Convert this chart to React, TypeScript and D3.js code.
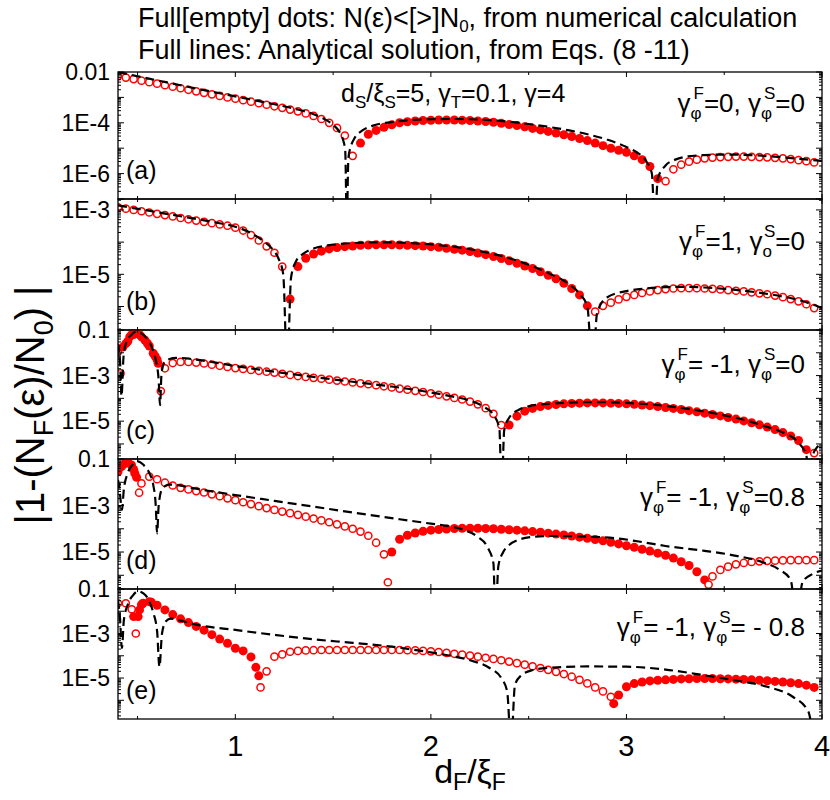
import React from "react";
import * as d3 from "d3";

// numerical grid of d_F/xi_F
const dF = [
  0.40, 0.44, 0.48, 0.52, 0.56, 0.60, 0.64, 0.68, 0.72, 0.76,
  0.80, 0.84, 0.88, 0.92, 0.96, 1.00, 1.04, 1.08, 1.12, 1.16,
  1.20, 1.24, 1.28, 1.32, 1.36, 1.40, 1.44, 1.48, 1.52, 1.56,
  1.60, 1.64, 1.68, 1.72, 1.76, 1.80, 1.84, 1.88, 1.92, 1.96,
  2.00, 2.04, 2.08, 2.12, 2.16, 2.20, 2.24, 2.28, 2.32, 2.36,
  2.40, 2.44, 2.48, 2.52, 2.56, 2.60, 2.64, 2.68, 2.72, 2.76,
  2.80, 2.84, 2.88, 2.92, 2.96, 3.00, 3.04, 3.08, 3.12, 3.16,
  3.20, 3.24, 3.28, 3.32, 3.36, 3.40, 3.44, 3.48, 3.52, 3.56,
  3.60, 3.64, 3.68, 3.72, 3.76, 3.80, 3.84, 3.88, 3.92, 3.96,
];

// log10 |1 - N_F/N_0| on the grid, one array per panel
const aLog = [
  -2.16, -2.22, -2.28, -2.34, -2.40, -2.46, -2.52, -2.58, -2.64, -2.70,
  -2.76, -2.82, -2.88, -2.94, -3.00, -3.05, -3.11, -3.17, -3.23, -3.29,
  -3.35, -3.41, -3.48, -3.55, -3.63, -3.73, -3.85, -4.00, -4.20, -4.50,
  -5.30, -4.80, -4.45, -4.30, -4.18, -4.08, -4.00, -3.96, -3.93, -3.91,
  -3.90, -3.89, -3.89, -3.89, -3.90, -3.91, -3.93, -3.95, -3.98, -4.02,
  -4.07, -4.11, -4.16, -4.22, -4.28, -4.34, -4.40, -4.47, -4.54, -4.62,
  -4.70, -4.80, -4.90, -5.00, -5.08, -5.16, -5.30, -5.45, -5.72, -6.20,
  -6.30, -5.83, -5.65, -5.53, -5.45, -5.40, -5.37, -5.35, -5.34, -5.33,
  -5.33, -5.34, -5.35, -5.36, -5.38, -5.40, -5.43, -5.47, -5.51, -5.56,
];
const bLog = [
  -2.92, -2.96, -3.00, -3.04, -3.08, -3.12, -3.16, -3.20, -3.25, -3.29,
  -3.33, -3.37, -3.41, -3.45, -3.49, -3.55, -3.64, -3.78, -3.95, -4.13,
  -4.33, -4.76, -5.77, -4.76, -4.50, -4.37, -4.28, -4.21, -4.17, -4.14,
  -4.12, -4.10, -4.09, -4.08, -4.08, -4.08, -4.09, -4.10, -4.11, -4.12,
  -4.14, -4.16, -4.19, -4.22, -4.25, -4.29, -4.34, -4.39, -4.45, -4.51,
  -4.58, -4.66, -4.74, -4.82, -4.92, -5.03, -5.14, -5.28, -5.44, -5.64,
  -5.98, -6.16, -5.98, -5.88, -5.78, -5.70, -5.64, -5.58, -5.53, -5.49,
  -5.46, -5.44, -5.43, -5.43, -5.43, -5.44, -5.45, -5.47, -5.49, -5.51,
  -5.53, -5.56, -5.59, -5.62, -5.66, -5.71, -5.77, -5.84, -5.93, -6.05,
];
const cLog = [
  -1.95, -1.60, -1.20, -1.30, -1.70, -2.30, -2.68, -2.45, -2.40, -2.40,
  -2.43, -2.47, -2.52, -2.57, -2.62, -2.67, -2.71, -2.75, -2.79, -2.83,
  -2.87, -2.92, -2.97, -3.02, -3.06, -3.10, -3.14, -3.18, -3.22, -3.26,
  -3.30, -3.34, -3.38, -3.42, -3.47, -3.52, -3.57, -3.62, -3.67, -3.72,
  -3.78, -3.84, -3.91, -3.98, -4.05, -4.14, -4.26, -4.43, -4.68, -5.17,
  -5.17, -4.78, -4.56, -4.44, -4.36, -4.31, -4.27, -4.24, -4.22, -4.21,
  -4.20, -4.20, -4.20, -4.21, -4.22, -4.24, -4.26, -4.29, -4.32, -4.36,
  -4.40, -4.44, -4.49, -4.54, -4.59, -4.65, -4.71, -4.77, -4.84, -4.91,
  -4.99, -5.07, -5.16, -5.26, -5.37, -5.50, -5.65, -5.85, -6.25, -6.40,
];
const dLog = [
  -1.55, -1.17, -1.45, -2.05, -1.76, -1.87, -2.02, -2.14, -2.24, -2.31,
  -2.38, -2.44, -2.52, -2.60, -2.69, -2.77, -2.86, -2.94, -3.03, -3.11,
  -3.19, -3.26, -3.33, -3.40, -3.48, -3.56, -3.64, -3.72, -3.81, -3.90,
  -4.00, -4.12, -4.30, -4.60, -5.10, -5.00, -4.45, -4.28, -4.18, -4.11,
  -4.06, -4.03, -4.01, -3.99, -3.98, -3.98, -3.98, -3.99, -4.00, -4.02,
  -4.04, -4.06, -4.09, -4.12, -4.15, -4.19, -4.23, -4.27, -4.31, -4.36,
  -4.41, -4.46, -4.52, -4.58, -4.65, -4.73, -4.80, -4.88, -4.96, -5.05,
  -5.14, -5.26, -5.42, -5.58, -5.85, -6.20, -6.05, -5.77, -5.63, -5.53,
  -5.47, -5.43, -5.40, -5.38, -5.37, -5.36, -5.35, -5.35, -5.35, -5.35,
];
const eLog = [
  -1.64, -1.64, -2.24, -1.70, -1.57, -1.73, -1.94, -2.15, -2.34, -2.51,
  -2.68, -2.85, -3.05, -3.25, -3.44, -3.66, -3.78, -4.05, -4.90, -4.70,
  -4.04, -3.94, -3.82, -3.78, -3.76, -3.75, -3.74, -3.74, -3.74, -3.74,
  -3.74, -3.74, -3.74, -3.74, -3.74, -3.74, -3.74, -3.75, -3.76, -3.78,
  -3.80, -3.83, -3.87, -3.91, -3.95, -3.99, -4.04, -4.09, -4.14, -4.20,
  -4.26, -4.33, -4.40, -4.47, -4.55, -4.63, -4.72, -4.82, -4.94, -5.08,
  -5.24, -5.42, -5.60, -5.84, -5.76, -5.39, -5.25, -5.18, -5.13, -5.10,
  -5.08, -5.06, -5.04, -5.03, -5.02, -5.02, -5.02, -5.03, -5.04, -5.05,
  -5.06, -5.08, -5.10, -5.12, -5.15, -5.18, -5.21, -5.25, -5.32, -5.42,
];

// d_F ranges where N(eps) < N0 (full dots)
const aFull = [[1.62, 3.18]];
const bFull = [[1.26, 2.82]];
const cFull = [[0.42, 0.61], [2.38, 3.94]];
const dFull = [[0.39, 0.50], [1.79, 3.41]];
const eFull = [[0.475, 1.125], [2.93, 4.0]];

// extra points off the grid: [d_F, log10 value, full?]
const aExtra: number[][] = [];
const bExtra: number[][] = [];
const cExtra = [
  [0.413, -2.9, 0], [0.425, -1.75, 1], [0.45, -1.5, 1], [0.46, -1.3, 1], [0.47, -1.2, 1],
  [0.495, -1.15, 1], [0.51, -1.2, 1], [0.537, -1.44, 1], [0.55, -1.58, 1], [0.58, -2.02, 1],
  [0.59, -2.15, 1], [0.605, -2.46, 1], [0.619, -3.68, 0],
];
const dExtra = [
  [0.418, -1.33, 1], [0.435, -1.19, 1], [0.452, -1.16, 1], [0.469, -1.26, 1], [0.486, -1.62, 1],
  [0.495, -1.79, 1], [0.508, -2.45, 0], [1.78, -6.3, 0], [3.42, -6.4, 0],
];
const eExtra = [
  [0.47, -1.91, 0], [0.491, -3.0, 0], [0.503, -2.24, 1], [0.51, -1.94, 1], [0.528, -1.64, 1],
  [0.571, -1.6, 1], [1.105, -4.52, 1], [1.129, -5.42, 0], [2.935, -6.15, 1],
];

// analytical solution (dashed): [d_F, log10 value]
const aLine = [
  [0.40, -2.0], [0.6, -2.33], [0.8, -2.65], [1.0, -2.96], [1.2, -3.27], [1.3, -3.44], [1.4, -3.66],
  [1.45, -3.83], [1.5, -4.08], [1.53, -4.33], [1.55, -4.65], [1.562, -5.1], [1.57, -8], [1.578, -5.4],
  [1.59, -4.95], [1.61, -4.6], [1.65, -4.3], [1.7, -4.12], [1.8, -3.97], [1.9, -3.89], [2.0, -3.86],
  [2.1, -3.85], [2.2, -3.86], [2.4, -3.96], [2.6, -4.16], [2.8, -4.45], [2.9, -4.66], [3.0, -4.95],
  [3.05, -5.15], [3.1, -5.5], [3.13, -6.0], [3.145, -8], [3.16, -6.2], [3.2, -5.68], [3.25, -5.45],
  [3.3, -5.34], [3.4, -5.27], [3.5, -5.25], [3.6, -5.26], [3.7, -5.3], [3.8, -5.36], [3.9, -5.43], [4.0, -5.5],
];
const bLine = [
  [0.40, -2.86], [0.6, -3.07], [0.8, -3.28], [0.9, -3.39], [1.0, -3.52], [1.08, -3.72], [1.14, -3.95],
  [1.19, -4.22], [1.22, -4.5], [1.245, -5.0], [1.265, -8], [1.285, -5.1], [1.31, -4.6], [1.35, -4.35],
  [1.4, -4.2], [1.5, -4.08], [1.6, -4.03], [1.7, -4.01], [1.8, -4.01], [1.9, -4.03], [2.0, -4.07],
  [2.1, -4.13], [2.2, -4.22], [2.3, -4.34], [2.4, -4.5], [2.5, -4.7], [2.6, -4.96], [2.7, -5.28],
  [2.76, -5.6], [2.8, -6.0], [2.827, -8], [2.85, -6.2], [2.9, -5.72], [3.0, -5.52], [3.1, -5.44],
  [3.2, -5.4], [3.3, -5.39], [3.4, -5.41], [3.5, -5.45], [3.6, -5.51], [3.7, -5.59], [3.8, -5.69],
  [3.9, -5.83], [4.0, -6.05],
];
const cLine = [
  [0.40, -1.6], [0.41, -2.3], [0.418, -3.9], [0.428, -2.2], [0.44, -1.6], [0.47, -1.2], [0.495, -1.07],
  [0.52, -1.15], [0.55, -1.4], [0.575, -1.8], [0.595, -2.4], [0.608, -3.2], [0.615, -4.3], [0.622, -3.0],
  [0.635, -2.45], [0.66, -2.28], [0.7, -2.22], [0.8, -2.3], [1.0, -2.58], [1.2, -2.83], [1.4, -3.06],
  [1.6, -3.27], [1.8, -3.48], [2.0, -3.74], [2.1, -3.9], [2.2, -4.1], [2.27, -4.37], [2.32, -4.72],
  [2.35, -5.3], [2.362, -8], [2.375, -5.4], [2.4, -4.85], [2.45, -4.5], [2.5, -4.35], [2.6, -4.24],
  [2.7, -4.19], [2.8, -4.17], [2.9, -4.17], [3.0, -4.2], [3.2, -4.33], [3.4, -4.58], [3.6, -4.94],
  [3.7, -5.2], [3.8, -5.5], [3.88, -5.95], [3.92, -6.5], [3.935, -8], [3.95, -6.6], [3.97, -6.2], [4.0, -6.0],
];
const dLine = [
  [0.40, -1.9], [0.41, -2.5], [0.42, -3.2], [0.43, -2.3], [0.45, -1.6], [0.48, -1.2], [0.5, -1.1],
  [0.53, -1.25], [0.56, -1.6], [0.58, -2.1], [0.593, -3.0], [0.6, -4.2], [0.608, -3.0], [0.625, -2.3],
  [0.66, -2.1], [0.7, -2.12], [0.8, -2.28], [1.0, -2.55], [1.2, -2.8], [1.4, -3.05], [1.6, -3.3],
  [1.84, -3.59], [2.0, -3.78], [2.1, -3.9], [2.17, -4.05], [2.24, -4.35], [2.29, -4.8], [2.32, -5.5],
  [2.33, -8], [2.345, -5.6], [2.37, -5.0], [2.4, -4.7], [2.45, -4.47], [2.52, -4.35], [2.6, -4.31],
  [2.8, -4.34], [2.95, -4.41], [3.1, -4.6], [3.2, -4.74], [3.4, -4.95], [3.54, -5.13], [3.7, -5.45],
  [3.78, -5.75], [3.84, -6.2], [3.87, -8], [3.9, -6.3], [3.95, -5.95], [4.0, -5.8],
];
const eLine = [
  [0.40, -1.5], [0.41, -2.3], [0.42, -3.65], [0.43, -2.4], [0.45, -1.7], [0.48, -1.25], [0.5, -1.1],
  [0.53, -1.2], [0.56, -1.55], [0.58, -2.05], [0.6, -2.9], [0.612, -4.5], [0.625, -3.0], [0.645, -2.45],
  [0.67, -2.33], [0.7, -2.38], [0.8, -2.6], [1.0, -2.84], [1.2, -3.06], [1.4, -3.26], [1.6, -3.42],
  [1.8, -3.59], [2.0, -3.85], [2.1, -4.0], [2.2, -4.2], [2.3, -4.55], [2.36, -5.0], [2.39, -5.6],
  [2.41, -8], [2.43, -5.3], [2.46, -4.9], [2.52, -4.64], [2.6, -4.54], [2.8, -4.48], [3.0, -4.49],
  [3.2, -4.62], [3.38, -4.85], [3.55, -5.1], [3.72, -5.39], [3.85, -5.84], [3.93, -6.5], [3.97, -8], [4.0, -7],
];

// y ranges (log10) and labelled decades
const yDomains = [[-7, -2], [-6.73, -2.66], [-6.66, -1], [-6.59, -1], [-6.84, -1]];
const aTicks = [[-2, "0.01"], [-4, "1E-4"], [-6, "1E-6"]];
const bTicks = [[-3, "1E-3"], [-5, "1E-5"]];
const cTicks = [[-1, "0.1"], [-3, "1E-3"], [-5, "1E-5"]];
const xTicks = [0.5, 1, 1.5, 2, 2.5, 3, 3.5, 4];
const xTickLabels = ["1", "2", "3", "4"];

const notes = [
  { tag: "(a)", s1: "φ", v1: "0", s2: "φ", v2: "0" },
  { tag: "(b)", s1: "φ", v1: "1", s2: "ο", v2: "0" },
  { tag: "(c)", s1: "φ", v1: " -1", s2: "φ", v2: "0" },
  { tag: "(d)", s1: "φ", v1: " -1", s2: "φ", v2: "0.8" },
  { tag: "(e)", s1: "φ", v1: " -1", s2: "φ", v2: " - 0.8" },
];

const font = "'Liberation Sans', Arial, Helvetica, sans-serif";
const RED = "#ff0000";

const tops = [72, 199, 330, 459, 589];
const bottoms = [199, 330, 459, 589, 719];
const noteY = [112, 250, 373, 506, 636];

function Panel({ i, logs, full, extra, line, ticks }) {
  const top = tops[i];
  const bottom = bottoms[i];
  const x = d3.scaleLinear().domain([0.4, 4]).range([118, 822]);
  const [lo, hi] = yDomains[i];
  const y = d3.scaleLog().domain([10 ** lo, 10 ** hi]).range([bottom, top]);
  const isFull = (v) => full.some(([a, b]) => v >= a && v <= b);
  const pts = [];
  logs.forEach((v, k) => pts.push([dF[k], v, isFull(dF[k]) ? 1 : 0]));
  extra.forEach((p) => pts.push(p));
  const path = d3
    .line()
    .x((d) => x(d[0]))
    .y((d) => y(10 ** d[1]))
    .curve(d3.curveMonotoneX)(line);

  const minor = [];
  for (let n = Math.floor(lo); n <= Math.ceil(hi); n++) {
    for (let k = 1; k <= 9; k++) {
      const v = k * 10 ** n;
      if (v >= 10 ** lo && v <= 10 ** hi * 1.0001) minor.push([v, k === 1]);
    }
  }
  const note = notes[i];
  const clip = "clip" + i;
  return (
    <g>
      <defs>
        <clipPath id={clip}>
          <rect x={118} y={top} width={704} height={bottom - top} />
        </clipPath>
      </defs>
      <g clipPath={`url(#${clip})`}>
        {pts.map((p, k) =>
          p[2] ? (
            <circle key={k} cx={x(p[0])} cy={y(10 ** p[1])} r={4.5} fill={RED} />
          ) : (
            <circle key={k} cx={x(p[0])} cy={y(10 ** p[1])} r={3.6} fill="white" stroke={RED} strokeWidth={1.5} />
          )
        )}
        <path d={path} fill="none" stroke="#000" strokeWidth={2.2} strokeDasharray="9,5" />
      </g>
      <rect x={118} y={top} width={704} height={bottom - top} fill="none" stroke="#000" strokeWidth={1.3} />
      {xTicks.map((t) => {
        const len = Number.isInteger(t) ? 5 : 3;
        return (
          <g key={t} stroke="#000" strokeWidth={1}>
            <line x1={x(t)} x2={x(t)} y1={top} y2={top + len} />
            <line x1={x(t)} x2={x(t)} y1={bottom} y2={bottom - len} />
          </g>
        );
      })}
      {minor.map(([v, major], k) => {
        const len = major ? 6 : 3;
        return (
          <g key={k} stroke="#000" strokeWidth={1}>
            <line x1={118} x2={118 + len} y1={y(v)} y2={y(v)} />
            <line x1={822} x2={822 - len} y1={y(v)} y2={y(v)} />
          </g>
        );
      })}
      {ticks.map(([d, s]) => (
        <text key={s} x={110} y={y(10 ** d)} dy="0.36em" textAnchor="end" fontSize={23} fontFamily={font}>
          {s}
        </text>
      ))}
      <text x={126} y={bottom - 20} fontSize={25} fontFamily={font}>
        {note.tag}
      </text>
      <text x={805} y={noteY[i]} textAnchor="end" fontSize={26} fontFamily={font}>
        <tspan>γ</tspan>
        <tspan fontSize={17} dy={7}>{note.s1}</tspan>
        <tspan fontSize={17} dx={-8} dy={-20}>F</tspan>
        <tspan dy={13}>{"=" + note.v1 + ", γ"}</tspan>
        <tspan fontSize={17} dy={7}>{note.s2}</tspan>
        <tspan fontSize={17} dx={-8} dy={-20}>S</tspan>
        <tspan dy={13}>{"=" + note.v2}</tspan>
      </text>
    </g>
  );
}

export default function App() {
  const x = d3.scaleLinear().domain([0.4, 4]).range([118, 822]);
  const panels = [
    { logs: aLog, full: aFull, extra: aExtra, line: aLine, ticks: aTicks },
    { logs: bLog, full: bFull, extra: bExtra, line: bLine, ticks: bTicks },
    { logs: cLog, full: cFull, extra: cExtra, line: cLine, ticks: cTicks },
    { logs: dLog, full: dFull, extra: dExtra, line: dLine, ticks: cTicks },
    { logs: eLog, full: eFull, extra: eExtra, line: eLine, ticks: cTicks },
  ];
  return (
    <svg width={830} height={800} style={{ position: "absolute", left: 0, top: 0, background: "#fff" }} fontFamily={font}>
      <text x={138} y={27} fontSize={27}>
        Full[empty] dots: N(ε)&lt;[&gt;]N<tspan fontSize={17} dy={5}>0</tspan>
        <tspan dy={-5}>, from numerical calculation</tspan>
      </text>
      <text x={138} y={59} fontSize={27}>
        Full lines: Analytical solution, from Eqs. (8 -11)
      </text>
      {panels.map((p, i) => (
        <Panel key={i} i={i} {...p} />
      ))}
      <text x={341} y={102} fontSize={25}>
        d<tspan fontSize={17} dy={6}>S</tspan>
        <tspan dy={-6}>/ξ</tspan>
        <tspan fontSize={17} dy={6}>S</tspan>
        <tspan dy={-6}>=5, γ</tspan>
        <tspan fontSize={17} dy={6}>T</tspan>
        <tspan dy={-6}>=0.1, γ=4</tspan>
      </text>
      {xTickLabels.map((s, k) => (
        <text key={s} x={x(k + 1)} y={756} textAnchor="middle" fontSize={29}>
          {s}
        </text>
      ))}
      <text x={470} y={783} textAnchor="middle" fontSize={34}>
        d<tspan fontSize={23} dy={7}>F</tspan>
        <tspan dy={-7}>/ξ</tspan>
        <tspan fontSize={23} dy={7}>F</tspan>
      </text>
      <text transform="translate(44,405) rotate(-90)" textAnchor="middle" fontSize={40}>
        |1-(N<tspan fontSize={27} dy={9}>F</tspan>
        <tspan dy={-9}>(ε)/N</tspan>
        <tspan fontSize={27} dy={9}>0</tspan>
        <tspan dy={-9}>) |</tspan>
      </text>
    </svg>
  );
}
